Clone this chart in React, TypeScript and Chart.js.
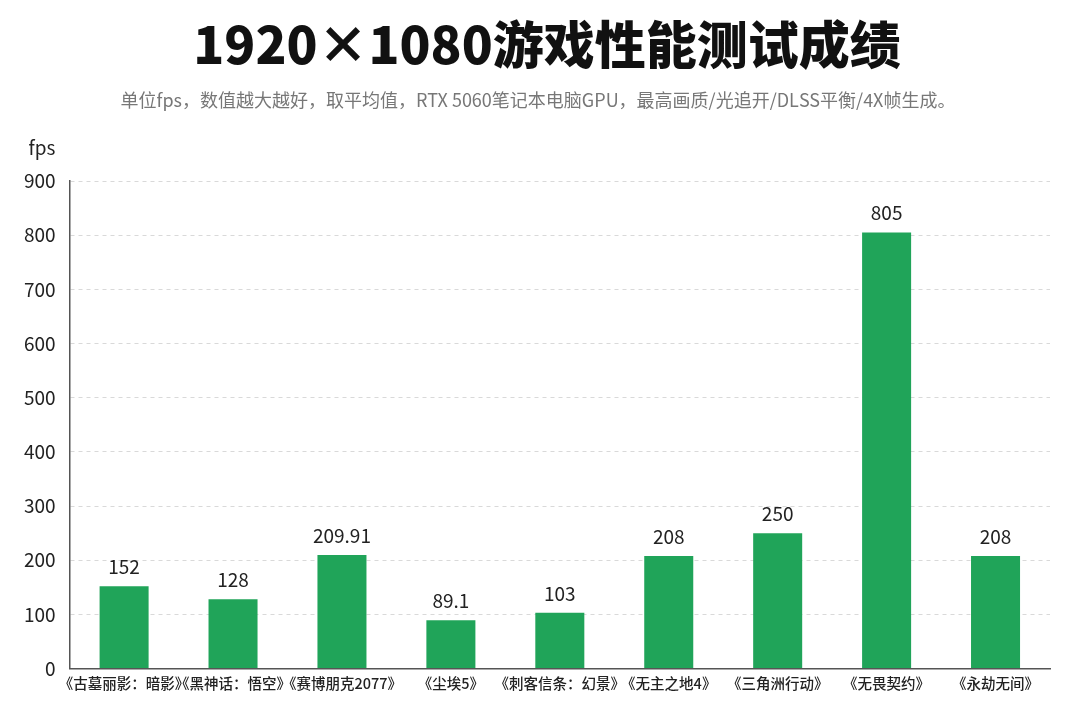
import React, { useEffect, useRef } from "react";
import { Chart, registerables } from "chart.js";

Chart.register(...registerables);

const categories = [
  "《古墓丽影：暗影》",
  "《黑神话：悟空》",
  "《赛博朋克2077》",
  "《尘埃5》",
  "《刺客信条：幻景》",
  "《无主之地4》",
  "《三角洲行动》",
  "《无畏契约》",
  "《永劫无间》",
];
const fpsValues = [152, 128, 209.91, 89.1, 103, 208, 250, 805, 208];
const yTicks = [0, 100, 200, 300, 400, 500, 600, 700, 800, 900];

const titleText = "1920×1080游戏性能测试成绩";
const subtitleText =
  "单位fps，数值越大越好，取平均值，RTX 5060笔记本电脑GPU，最高画质/光追开/DLSS平衡/4X帧生成。";
const unitText = "fps";

const FONT = "'Noto Sans CJK SC', 'Noto Sans', sans-serif";

export default function App() {
  const ref = useRef<HTMLCanvasElement | null>(null);
  useEffect(() => {
    if (!ref.current) return;
    const labelPlugin = {
      id: "valueLabels",
      afterDatasetsDraw(chart: any) {
        const ctx = chart.ctx;
        const meta = chart.getDatasetMeta(0);
        ctx.save();
        ctx.fillStyle = "#222";
        ctx.font = `400 19px ${FONT}`;
        ctx.textAlign = "center";
        ctx.textBaseline = "bottom";
        meta.data.forEach((bar: any, i: number) => {
          ctx.fillText(String(fpsValues[i]), bar.x, bar.y - 10);
        });
        const y = chart.scales.y;
        ctx.textBaseline = "middle";
        ctx.fillText(unitText, 42, y.top - 33);
        // title and subtitle
        ctx.fillStyle = "#111";
        ctx.font = `900 51px ${FONT}`;
        ctx.fillText(titleText, 547, 45);
        ctx.fillStyle = "#777";
        ctx.font = `400 18px ${FONT}`;
        ctx.fillText(subtitleText, 538, 100);
        ctx.restore();
      },
    };
    const chart = new Chart(ref.current, {
      type: "bar",
      data: {
        labels: categories,
        datasets: [
          {
            data: fpsValues,
            backgroundColor: "#20a459",
            barPercentage: 0.45,
            categoryPercentage: 1,
          },
        ],
      },
      options: {
        responsive: false,
        animation: false,
        layout: { padding: { left: 10, right: 30, top: 181, bottom: 22 } },
        plugins: {
          legend: { display: false },
          tooltip: { enabled: false },
          title: { display: false },
          subtitle: { display: false },
        },
        scales: {
          x: {
            grid: { display: false, drawTicks: false },
            border: { display: true, color: "#555", width: 1.5 },
            ticks: {
              color: "#222",
              font: { family: FONT, size: 14.5, weight: "500" },
              maxRotation: 0,
              autoSkip: false,
              padding: 6,
            },
          },
          y: {
            min: 0,
            max: 900,
            afterBuildTicks(scale: any) {
              scale.ticks = yTicks.map((v) => ({ value: v }));
            },
            grid: {
              color: "#d9d9d9",
              drawTicks: false,
            },
            border: { display: true, color: "#555", width: 1.5, dash: [4, 4] },
            ticks: {
              color: "#222",
              font: { family: FONT, size: 19 },
              padding: 14,
            },
          },
        },
      },
      plugins: [labelPlugin],
    } as any);
    return () => chart.destroy();
  }, []);
  return (
    <div style={{ position: "fixed", left: 0, top: 0, width: 1080, height: 720, background: "#fff" }}>
      <canvas ref={ref} width={1080} height={720} style={{ width: 1080, height: 720 }} />
    </div>
  );
}
